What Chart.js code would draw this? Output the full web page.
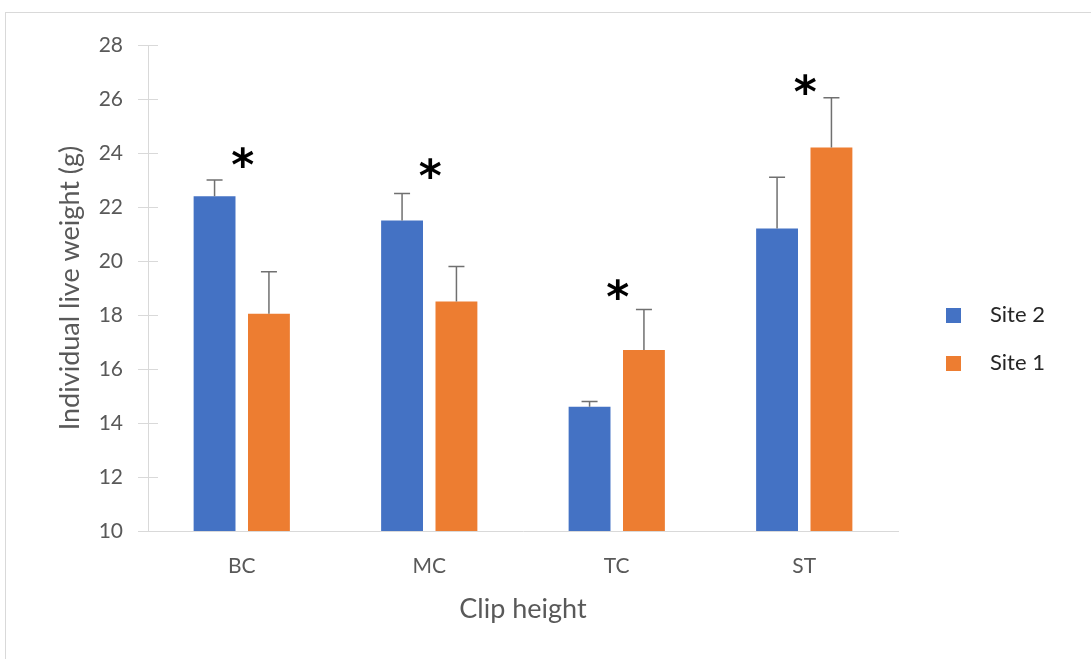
<!DOCTYPE html>
<html>
<head>
<meta charset="utf-8">
<script src="https://cdn.jsdelivr.net/npm/chart.js@4.4.1/dist/chart.umd.min.js"></script>
<style>
    body { margin: 0; background: #fff; }
    #frame {
        position: absolute; left: 5px; top: 12px;
        width: 1200px; height: 800px;
        border: 1px solid #d9d9d9;
    }
    #wrap { position: absolute; left: 0; top: 0; width: 1091px; height: 659px; }
</style>
</head>
<body>
<div id="frame"></div>
<div id="wrap"><canvas id="weightChart" width="1091" height="659"></canvas></div>
<script>
const categories = ["BC", "MC", "TC", "ST"];
const site2Values = [22.4, 21.5, 14.6, 21.2];
const site1Values = [18.05, 18.5, 16.7, 24.2];
// top of each error bar
const site2ErrTop = [23.0, 22.5, 14.8, 23.1];
const site1ErrTop = [19.6, 19.8, 18.2, 26.05];
// y value where the significance star sits, one per category
const starY = [23.8, 23.4, 18.9, 26.5];
const yTicks = [10, 12, 14, 16, 18, 20, 22, 24, 26, 28];

const FONT = "Lato, 'Liberation Sans', sans-serif";

// Error bars, stars, inner tick marks and legend
const extrasPlugin = {
    id: "extras",
    afterDatasetsDraw(chart) {
        const ctx = chart.ctx;
        const yScale = chart.scales.y;
        const xScale = chart.scales.x;
        const errs = [site2ErrTop, site1ErrTop];

        ctx.save();
        // tick marks poke a bit into the plot too
        ctx.strokeStyle = "#d9d9d9";
        ctx.lineWidth = 1;
        yTicks.forEach(v => {
            const y = Math.round(yScale.getPixelForValue(v)) + 0.5;
            ctx.beginPath();
            ctx.moveTo(yScale.right, y);
            ctx.lineTo(yScale.right + 10, y);
            ctx.stroke();
        });

        ctx.strokeStyle = "#707070";
        ctx.lineWidth = 1.5;
        chart.data.datasets.forEach((ds, di) => {
            const meta = chart.getDatasetMeta(di);
            meta.data.forEach((bar, i) => {
                const top = yScale.getPixelForValue(errs[di][i]);
                ctx.beginPath();
                ctx.moveTo(bar.x, bar.y);
                ctx.lineTo(bar.x, top);
                ctx.moveTo(bar.x - 8, top);
                ctx.lineTo(bar.x + 8, top);
                ctx.stroke();
            });
        });

        // stars
        ctx.fillStyle = "#000";
        ctx.font = "bold 44px 'DejaVu Sans', sans-serif";
        ctx.textAlign = "center";
        ctx.textBaseline = "middle";
        starY.forEach((v, i) => {
            const x = xScale.getPixelForValue(i) + 1;
            const y = yScale.getPixelForValue(v);
            ctx.fillText("*", x, y + 10);
        });

        // legend
        ctx.font = "22px " + FONT;
        ctx.textAlign = "left";
        ctx.textBaseline = "middle";
        chart.data.datasets.forEach((ds, di) => {
            const cy = 315 + di * 48;
            ctx.fillStyle = ds.backgroundColor;
            ctx.fillRect(946, cy - 7, 15, 15);
            ctx.fillStyle = "#262626";
            ctx.fillText(ds.label, 990, cy);
        });
        ctx.restore();
    }
};

const ctx = document.getElementById("weightChart").getContext("2d");

new Chart(ctx, {
    type: "bar",
    data: {
        labels: categories,
        datasets: [
            { label: "Site 2", data: site2Values, backgroundColor: "#4472C4" },
            { label: "Site 1", data: site1Values, backgroundColor: "#ED7D31" }
        ]
    },
    options: {
        responsive: false,
        animation: false,
        layout: { padding: { left: 0, top: 45, right: 193, bottom: 0 } },
        categoryPercentage: 0.58,
        barPercentage: 0.77,
        plugins: {
            legend: { display: false },
            tooltip: { enabled: false }
        },
        scales: {
            x: {
                afterFit: (s) => { s.height = 128; },
                grid: { display: false },
                border: { color: "#d9d9d9", width: 1 },
                ticks: { color: "#595959", font: { family: FONT, size: 21 }, padding: 15 },
                title: {
                    display: true,
                    text: "Clip height",
                    color: "#595959",
                    font: { family: FONT, size: 27 },
                    padding: { top: 0, bottom: 34 }
                }
            },
            y: {
                min: 10,
                max: 28,
                afterFit: (s) => { s.width = 148; },
                afterBuildTicks: (s) => { s.ticks = yTicks.map(v => ({ value: v })); },
                grid: { drawOnChartArea: false, color: "#d9d9d9", tickLength: 10 },
                border: { color: "#d9d9d9", width: 1 },
                ticks: { color: "#595959", font: { family: FONT, size: 21 }, padding: 15 },
                title: {
                    display: true,
                    text: "Individual live weight (g)",
                    color: "#595959",
                    font: { family: FONT, size: 27 },
                    padding: { top: 54, bottom: 0 }
                }
            }
        }
    },
    plugins: [extrasPlugin]
});
</script>
</body>
</html>
